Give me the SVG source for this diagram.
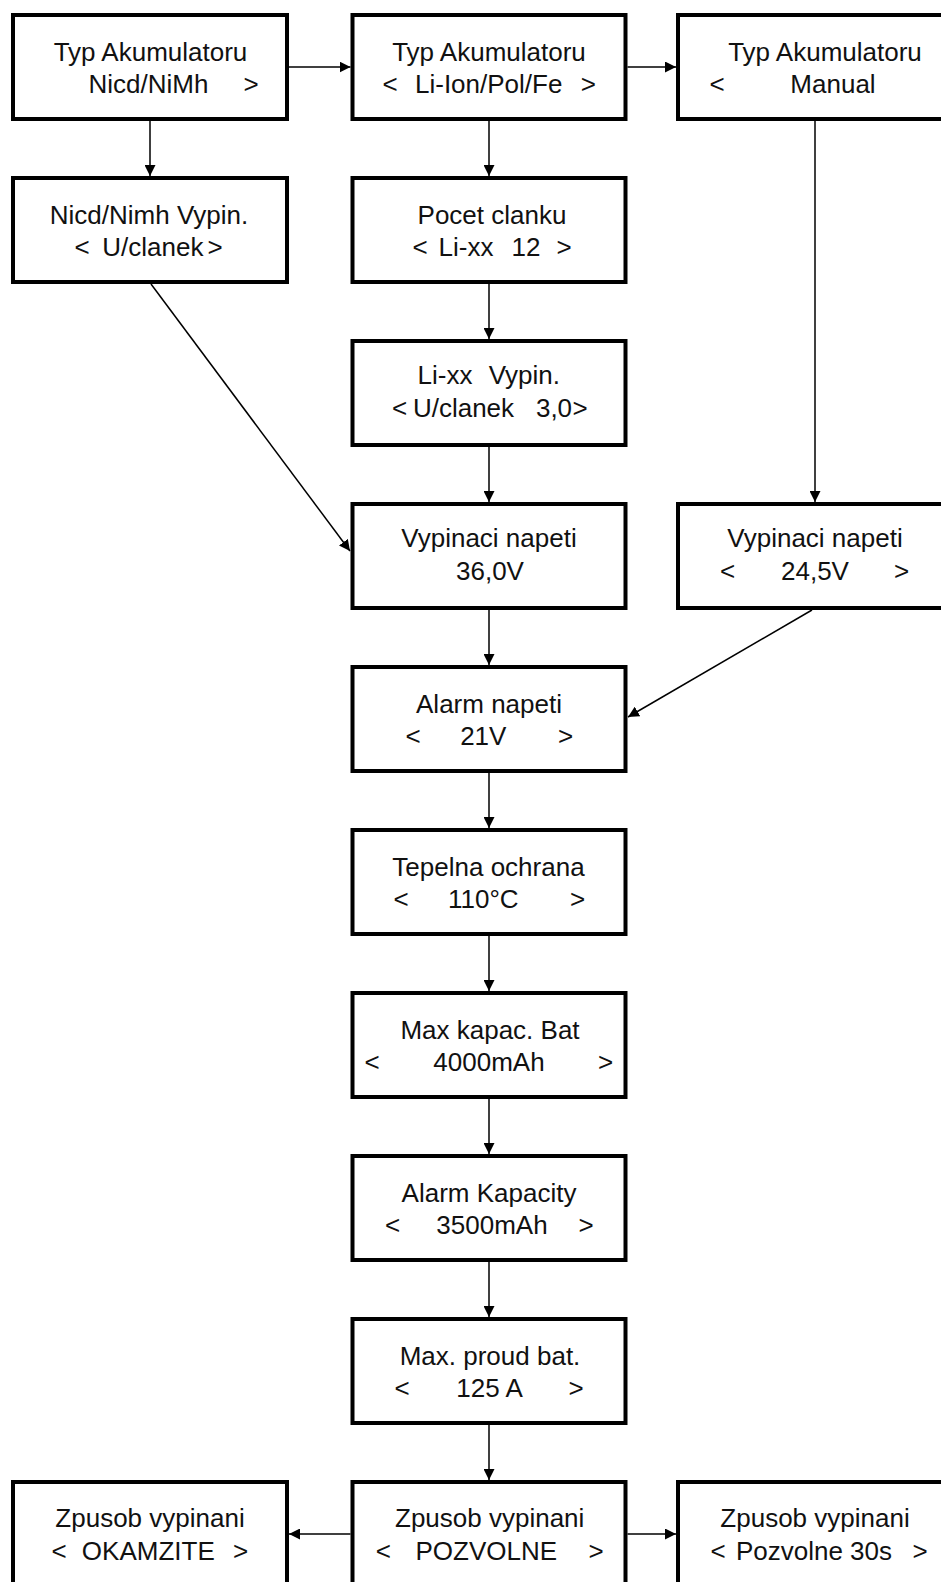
<svg xmlns="http://www.w3.org/2000/svg" width="941" height="1582" viewBox="0 0 941 1582">
<style>
.box{fill:#fff;stroke:#000;stroke-width:4}
.t{font-family:"Liberation Sans",Arial,sans-serif;font-size:26px;fill:#111;text-anchor:middle}
.c{stroke:#000;stroke-width:1.5;fill:none;marker-end:url(#ah)}
</style>
<defs>
<marker id="ah" markerUnits="userSpaceOnUse" markerWidth="11" markerHeight="11" refX="11" refY="5.5" orient="auto"><path d="M0,0 L11,5.5 L0,11 z" fill="#000"/></marker>
</defs>
<g id="connectors">
<line class="c" x1="289" y1="67" x2="350.5" y2="67"/>
<line class="c" x1="627.5" y1="67" x2="676" y2="67"/>
<line class="c" x1="150" y1="121" x2="150" y2="176"/>
<line class="c" x1="489" y1="121" x2="489" y2="176"/>
<line class="c" x1="489" y1="284" x2="489" y2="339"/>
<line class="c" x1="489" y1="447" x2="489" y2="502"/>
<line class="c" x1="815" y1="121" x2="815" y2="502"/>
<line class="c" x1="151" y1="284" x2="350" y2="551"/>
<line class="c" x1="489" y1="610" x2="489" y2="665"/>
<line class="c" x1="812" y1="610" x2="628" y2="717"/>
<line class="c" x1="489" y1="773" x2="489" y2="828"/>
<line class="c" x1="489" y1="936" x2="489" y2="991"/>
<line class="c" x1="489" y1="1099" x2="489" y2="1154"/>
<line class="c" x1="489" y1="1262" x2="489" y2="1317"/>
<line class="c" x1="489" y1="1425" x2="489" y2="1480"/>
<line class="c" x1="350.5" y1="1534" x2="289" y2="1534"/>
<line class="c" x1="627.5" y1="1534" x2="676" y2="1534"/>
</g>
<g id="n1"><rect class="box" x="13" y="15" width="274" height="104"/>
<text class="t" y="61"><tspan x="150.5">Typ Akumulatoru</tspan></text>
<text class="t" y="93"><tspan x="148.5">Nicd/NiMh</tspan><tspan x="251">&gt;</tspan></text></g>
<g id="n2"><rect class="box" x="352.5" y="15" width="273" height="104"/>
<text class="t" y="61"><tspan x="489">Typ Akumulatoru</tspan></text>
<text class="t" y="93"><tspan x="390">&lt;</tspan><tspan x="488.7">Li-Ion/Pol/Fe</tspan><tspan x="588.3">&gt;</tspan></text></g>
<g id="n3"><rect class="box" x="678" y="15" width="280" height="104"/>
<text class="t" y="61"><tspan x="825">Typ Akumulatoru</tspan></text>
<text class="t" y="93"><tspan x="717">&lt;</tspan><tspan x="833">Manual</tspan></text></g>
<g id="n4"><rect class="box" x="13" y="178" width="274" height="104"/>
<text class="t" y="224"><tspan x="149">Nicd/Nimh Vypin.</tspan></text>
<text class="t" y="256"><tspan x="82">&lt;</tspan><tspan x="152.8">U/clanek</tspan><tspan x="215">&gt;</tspan></text></g>
<g id="n5"><rect class="box" x="352.5" y="178" width="273" height="104"/>
<text class="t" y="224"><tspan x="492">Pocet clanku</tspan></text>
<text class="t" y="256"><tspan x="420">&lt;</tspan><tspan x="466">Li-xx</tspan><tspan x="526">12</tspan><tspan x="564">&gt;</tspan></text></g>
<g id="n6"><rect class="box" x="352.5" y="341" width="273" height="104"/>
<text class="t" y="384"><tspan x="445">Li-xx</tspan><tspan x="524.3">Vypin.</tspan></text>
<text class="t" y="417"><tspan x="399.7">&lt;</tspan><tspan x="463.5">U/clanek</tspan><tspan x="554">3,0</tspan><tspan x="580">&gt;</tspan></text></g>
<g id="n7"><rect class="box" x="352.5" y="504" width="273" height="104"/>
<text class="t" y="547"><tspan x="489">Vypinaci napeti</tspan></text>
<text class="t" y="580"><tspan x="490">36,0V</tspan></text></g>
<g id="n8"><rect class="box" x="678" y="504" width="280" height="104"/>
<text class="t" y="547"><tspan x="815">Vypinaci napeti</tspan></text>
<text class="t" y="580"><tspan x="727.5">&lt;</tspan><tspan x="815">24,5V</tspan><tspan x="901.5">&gt;</tspan></text></g>
<g id="n9"><rect class="box" x="352.5" y="667" width="273" height="104"/>
<text class="t" y="713"><tspan x="489">Alarm napeti</tspan></text>
<text class="t" y="745"><tspan x="413">&lt;</tspan><tspan x="483.3">21V</tspan><tspan x="565.5">&gt;</tspan></text></g>
<g id="n10"><rect class="box" x="352.5" y="830" width="273" height="104"/>
<text class="t" y="876"><tspan x="488.5">Tepelna ochrana</tspan></text>
<text class="t" y="908"><tspan x="401">&lt;</tspan><tspan x="483.3">110°C</tspan><tspan x="577.7">&gt;</tspan></text></g>
<g id="n11"><rect class="box" x="352.5" y="993" width="273" height="104"/>
<text class="t" y="1039"><tspan x="490">Max kapac. Bat</tspan></text>
<text class="t" y="1071"><tspan x="372">&lt;</tspan><tspan x="489">4000mAh</tspan><tspan x="605.6">&gt;</tspan></text></g>
<g id="n12"><rect class="box" x="352.5" y="1156" width="273" height="104"/>
<text class="t" y="1202"><tspan x="489">Alarm Kapacity</tspan></text>
<text class="t" y="1234"><tspan x="392.5">&lt;</tspan><tspan x="492">3500mAh</tspan><tspan x="586">&gt;</tspan></text></g>
<g id="n13"><rect class="box" x="352.5" y="1319" width="273" height="104"/>
<text class="t" y="1365"><tspan x="490">Max. proud bat.</tspan></text>
<text class="t" y="1397"><tspan x="402">&lt;</tspan><tspan x="489.6">125 A</tspan><tspan x="576">&gt;</tspan></text></g>
<g id="n14"><rect class="box" x="13" y="1482" width="274" height="104"/>
<text class="t" y="1527"><tspan x="150">Zpusob vypinani</tspan></text>
<text class="t" y="1560"><tspan x="59">&lt;</tspan><tspan x="148.3">OKAMZITE</tspan><tspan x="240.5">&gt;</tspan></text></g>
<g id="n15"><rect class="box" x="352.5" y="1482" width="273" height="104"/>
<text class="t" y="1527"><tspan x="489.7">Zpusob vypinani</tspan></text>
<text class="t" y="1560"><tspan x="383.3">&lt;</tspan><tspan x="486.3">POZVOLNE</tspan><tspan x="596">&gt;</tspan></text></g>
<g id="n16"><rect class="box" x="678" y="1482" width="280" height="104"/>
<text class="t" y="1527"><tspan x="815">Zpusob vypinani</tspan></text>
<text class="t" y="1560"><tspan x="718">&lt;</tspan><tspan x="814">Pozvolne 30s</tspan><tspan x="920">&gt;</tspan></text></g>
</svg>
